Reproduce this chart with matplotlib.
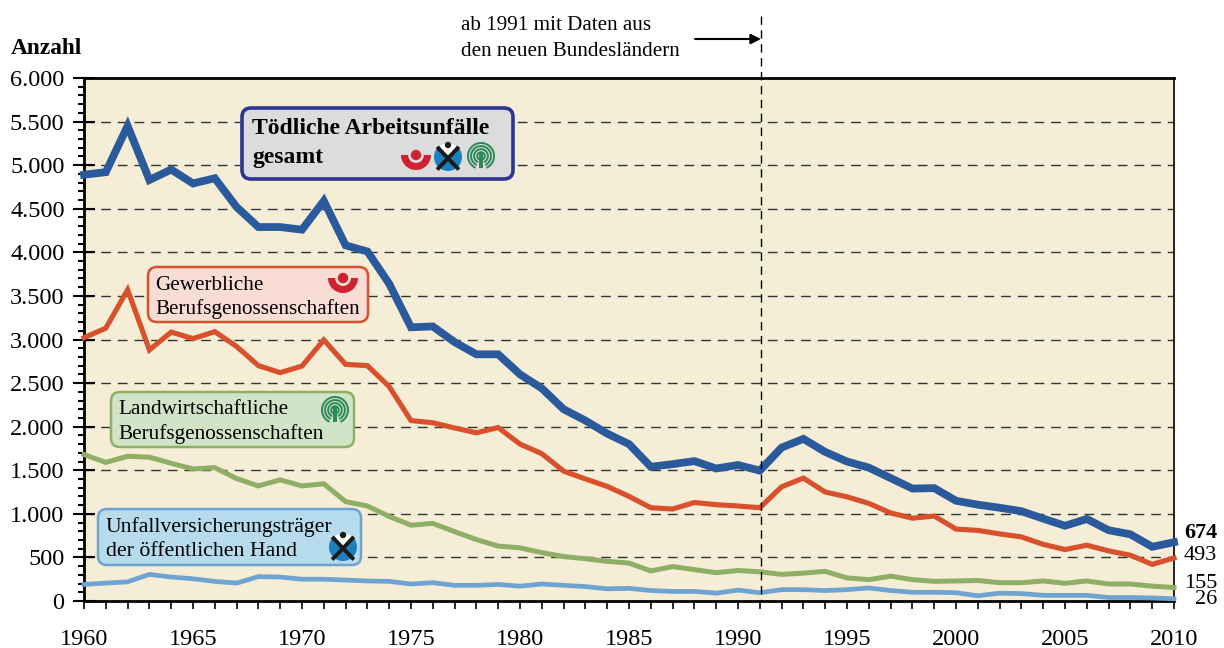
import numpy as np
import matplotlib
matplotlib.use('Agg')
import matplotlib.pyplot as plt
from matplotlib.patches import FancyBboxPatch, Wedge, Circle, Rectangle

plt.rcParams['font.family'] = ['Liberation Serif', 'DejaVu Serif']

years = list(range(1960, 2011))
gesamt = [4890, 4920, 5450, 4830, 4950, 4790, 4850, 4520, 4290, 4290, 4260, 4590, 4080,
          4010, 3640, 3140, 3150, 2970, 2830, 2830, 2600, 2440, 2200, 2070, 1920, 1800,
          1540, 1570, 1605, 1520, 1560, 1496, 1760, 1860, 1710, 1600, 1530, 1410, 1290,
          1295, 1150, 1105, 1070, 1030, 945, 863, 941, 812, 765, 622, 674]
gewerblich = [3020, 3130, 3570, 2880, 3085, 3010, 3090, 2920, 2700, 2620, 2695, 2995, 2715,
              2700, 2460, 2070, 2045, 1985, 1930, 1990, 1800, 1690, 1490, 1400, 1315, 1200,
              1070, 1055, 1130, 1105, 1090, 1070, 1310, 1410, 1250, 1195, 1120, 1010, 950,
              975, 825, 810, 770, 735, 650, 590, 640, 575, 525, 420, 493]
landwirtschaft = [1680, 1590, 1660, 1650, 1580, 1515, 1530, 1405, 1320, 1390, 1320, 1345, 1140,
                  1090, 970, 870, 890, 795, 705, 630, 610, 555, 510, 485, 455, 435,
                  345, 395, 360, 325, 350, 335, 305, 320, 340, 265, 245, 285, 245,
                  225, 230, 235, 210, 210, 230, 203, 230, 195, 195, 170, 155]
oeffentlich = [190, 205, 220, 305, 275, 255, 225, 205, 280, 275, 250, 250, 240,
               230, 225, 195, 210, 180, 180, 190, 170, 195, 180, 165, 140, 145,
               120, 110, 110, 90, 125, 95, 130, 130, 120, 130, 150, 120, 100,
               100, 95, 60, 90, 85, 65, 65, 65, 40, 40, 35, 26]

y_labels = ['0', '500', '1.000', '1.500', '2.000', '2.500', '3.000', '3.500', '4.000',
            '4.500', '5.000', '5.500', '6.000']
x_labels = [1960, 1965, 1970, 1975, 1980, 1985, 1990, 1995, 2000, 2005, 2010]

W, H = 1224, 648
L, R, T, B = 84, 1174, 78, 601

fig = plt.figure(figsize=(W / 100, H / 100), dpi=100)
ax = fig.add_axes([L / W, 1 - B / H, (R - L) / W, (B - T) / H])
ax.set_facecolor('#f5edd6')
ax.set_xlim(1960, 2010)
ax.set_ylim(0, 6000)

ax.set_yticks(np.arange(0, 6001, 500))
ax.set_yticklabels(y_labels, fontsize=17.5)
ax.set_yticks(np.arange(0, 6001, 100), minor=True)
ax.set_xticks(x_labels)
ax.set_xticklabels(x_labels, fontsize=17.5)
ax.set_xticks(years, minor=True)
ax.tick_params(axis='y', which='major', direction='inout', length=16, width=1.5, pad=6)
ax.tick_params(axis='y', which='minor', direction='out', length=4.5, width=1.5)
ax.tick_params(axis='x', which='major', direction='out', length=6, width=1.2, pad=14)
ax.tick_params(axis='x', which='minor', direction='out', length=6, width=1.2)
for s in ['top', 'bottom', 'left']:
    ax.spines[s].set_linewidth(2)
ax.spines['right'].set_linewidth(1.2)

for v in np.arange(500, 6000, 500):
    ax.axhline(v, color='#333333', lw=1, dashes=(7, 5), zorder=1)

ax.plot(years, oeffentlich, color='#6fa3d2', lw=3.4, solid_joinstyle='miter', clip_on=False, zorder=3)
ax.plot(years, landwirtschaft, color='#8fae66', lw=3.6, solid_joinstyle='miter', clip_on=False, zorder=3)
ax.plot(years, gewerblich, color='#d9502c', lw=3.7, solid_joinstyle='miter', clip_on=False, zorder=3)
ax.plot(years, gesamt, color='#2a5a9b', lw=5.6, solid_joinstyle='miter', clip_on=False, zorder=4)

# overlay in pixel coordinates for boxes, logos and notes
ov = fig.add_axes([0, 0, 1, 1], facecolor='none')
ov.set_xlim(0, W)
ov.set_ylim(H, 0)
ov.axis('off')


def box(x0, y0, x1, y1, fc, ec, lw):
    ov.add_patch(FancyBboxPatch((x0 + 9, y0 + 9), x1 - x0 - 18, y1 - y0 - 18,
                                boxstyle='round,pad=9,rounding_size=9', fc=fc, ec=ec, lw=lw, zorder=5))


def logo_red(cx, cy, r=15):
    # y axis is flipped, so 0-180 is the lower half
    ov.add_patch(Wedge((cx, cy), r, 0, 180, width=r * 0.47, fc='#cf2230', ec='none', zorder=6))
    ov.add_patch(Circle((cx, cy), 5.2, fc='#cf2230', ec='none', zorder=6))


def logo_blue(cx, cy, r=14):
    ov.add_patch(Circle((cx, cy), r, fc='#1b80bd', ec='none', zorder=6))
    ov.add_patch(Wedge((cx, cy), r, 232, 308, fc='white', ec='none', zorder=6))
    ov.plot([cx - r * 0.68, cx + r * 0.68], [cy - r * 0.62, cy + r * 0.8], color='#1a1a1a', lw=2.8, zorder=7)
    ov.plot([cx + r * 0.68, cx - r * 0.68], [cy - r * 0.62, cy + r * 0.8], color='#1a1a1a', lw=2.8, zorder=7)
    ov.add_patch(Circle((cx, cy - r + 2), 3.2, fc='#1a1a1a', ec='none', zorder=7))


def logo_green(cx, cy, r=14):
    for rr in [r, r * 0.78, r * 0.56, r * 0.34]:
        ov.add_patch(Wedge((cx, cy), rr, 115, 65, width=2, fc='#2c8a5a', ec='none', zorder=6))
    ov.add_patch(Rectangle((cx - 2, cy - 3), 4, 15, fc='#2c8a5a', ec='none', zorder=6))


box(242, 108, 513, 179, '#dcdcdc', '#2c3590', 2.6)
ov.text(252, 129, 'Tödliche Arbeitsunfälle', fontsize=17, fontweight='bold', va='center', zorder=7)
ov.text(252, 157, 'gesamt', fontsize=17, fontweight='bold', va='center', zorder=7)
logo_red(416, 155)
logo_blue(448, 157)
logo_green(481, 156)

box(148, 267, 368, 322, '#f9dcd3', '#d9502c', 1.8)
ov.text(155, 285, 'Gewerbliche', fontsize=15.2, va='center', zorder=7)
ov.text(155, 309, 'Berufsgenossenschaften', fontsize=15.2, va='center', zorder=7)
logo_red(343, 278)

box(111, 392, 354, 447, '#d2e4c8', '#8fae66', 1.8)
ov.text(118, 410, 'Landwirtschaftliche', fontsize=15.3, va='center', zorder=7)
ov.text(118, 434, 'Berufsgenossenschaften', fontsize=15.3, va='center', zorder=7)
logo_green(335, 410)

box(98, 509, 361, 565, '#b5dbed', '#6fa3d2', 1.8)
ov.text(106, 527, 'Unfallversicherungsträger', fontsize=15.7, va='center', zorder=7)
ov.text(106, 551, 'der öffentlichen Hand', fontsize=15.7, va='center', zorder=7)
logo_blue(343, 547)

ov.text(11, 48, 'Anzahl', fontsize=16.8, fontweight='bold', va='center')
ov.text(461, 26, 'ab 1991 mit Daten aus', fontsize=15.2, va='center')
ov.text(461, 51, 'den neuen Bundesländern', fontsize=15.2, va='center')
ov.annotate('', xy=(761, 39), xytext=(695, 39),
            arrowprops=dict(arrowstyle='-|>', color='black', lw=1.5, mutation_scale=15, shrinkA=0, shrinkB=0))
ov.plot([761, 761], [16, 601], color='black', lw=1, dashes=(6, 4), zorder=2)

ov.text(1217, 533, str(gesamt[-1]), fontsize=16, fontweight='bold', ha='right', va='center')
ov.text(1217, 555, str(gewerblich[-1]), fontsize=16, ha='right', va='center')
ov.text(1217, 583, str(landwirtschaft[-1]), fontsize=16, ha='right', va='center')
ov.text(1217, 600, str(oeffentlich[-1]), fontsize=16, ha='right', va='center')

fig.savefig('out.png', dpi=100)
